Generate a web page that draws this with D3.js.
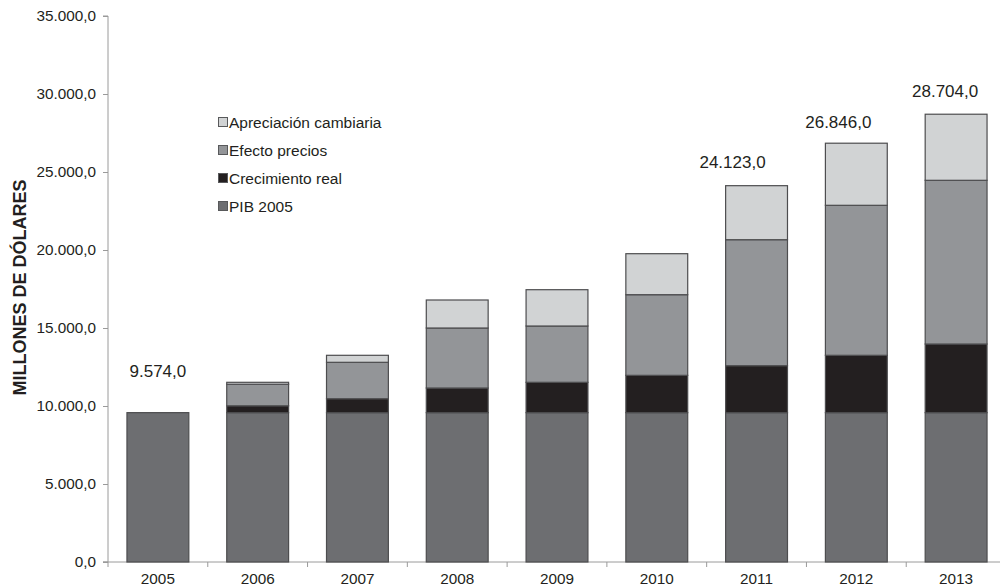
<!DOCTYPE html>
<html><head><meta charset="utf-8">
<script src="https://cdn.jsdelivr.net/npm/d3@7"></script>
<style>body{margin:0;background:#fff}svg{display:block;font-family:"Liberation Sans",Arial,sans-serif}</style>
</head><body><svg id="c" width="1000" height="587"></svg>
<script>
const years = ["2005","2006","2007","2008","2009","2010","2011","2012","2013"];
const pib2005 = [9574,9574,9574,9574,9574,9574,9574,9574,9574];
const crecimientoReal = [0,440,894,1580,1945,2392,3011,3676,4400];
const efectoPrecios = [0,1380,2333,3846,3609,5169,8075,9615,10494];
const apreciacionCambiaria = [0,125,449,1795,2327,2628,3463,3981,4236];
const seriesNames = ["PIB 2005","Crecimiento real","Efecto precios","Apreciación cambiaria"];
const seriesColors = ["#6d6e71","#231f20","#939598","#d1d3d4"];
const labelYears = ["2005","2011","2012","2013"];
const labelValues = [9574,24123,26846,28704];
const yTicks = [0,5000,10000,15000,20000,25000,30000,35000];

const svg = d3.select("#c");
const x = d3.scaleBand().domain(years).range([108,1006]).paddingInner(0.38).paddingOuter(0.19);
const y = d3.scaleLinear().domain([0,35000]).range([562,16]);
const loc = d3.formatLocale({decimal:",",thousands:".",grouping:[3],currency:["",""]});
const fmt = loc.format(",.1f");

const rows = years.map((yr,i)=>({year:yr,"PIB 2005":pib2005[i],"Crecimiento real":crecimientoReal[i],"Efecto precios":efectoPrecios[i],"Apreciación cambiaria":apreciacionCambiaria[i]}));
const stack = d3.stack().keys(seriesNames)(rows);

// axes
const yAxis = svg.append("g").attr("transform","translate(108,0)")
  .call(d3.axisLeft(y).tickValues(yTicks).tickFormat(fmt).tickSize(5).tickPadding(7));
yAxis.selectAll("path,line").attr("stroke","#9a9a9a");
yAxis.select(".domain").attr("d","M-5,16H0V562H-5");
yAxis.selectAll("text").attr("font-size",15.3).attr("fill","#231f20").attr("font-family","Liberation Sans, Arial, sans-serif");

const xg = svg.append("g");
xg.append("line").attr("x1",103).attr("x2",1006).attr("y1",562).attr("y2",562).attr("stroke","#9a9a9a");
const step = x.step();
d3.range(years.length+1).forEach(i=>{
  const bx = x.range()[0] + i*step;
  xg.append("line").attr("x1",bx).attr("x2",bx).attr("y1",562).attr("y2",567).attr("stroke","#9a9a9a");
});
xg.selectAll("text.yr").data(years).join("text").attr("class","yr")
  .attr("x",d=>x(d)+x.bandwidth()/2).attr("y",584).attr("text-anchor","middle")
  .attr("font-size",15.3).attr("fill","#231f20").text(d=>d);

// bars
stack.forEach((s,si)=>{
  svg.append("g").selectAll("rect").data(s.filter(d=>d[1]-d[0]>0)).join("rect")
    .attr("x",d=>x(d.data.year)).attr("width",x.bandwidth())
    .attr("y",d=>y(d[1])).attr("height",d=>y(d[0])-y(d[1]))
    .attr("fill",seriesColors[si]).attr("stroke","#4d4d4f").attr("stroke-width",1.2);
});

// data labels (manually placed in the original)
const lblDx = [0,-24,-18,-11], lblDy = [36,18,15,17];
svg.selectAll("text.lbl").data(labelYears).join("text").attr("class","lbl")
  .attr("x",(d,i)=>x(d)+x.bandwidth()/2+lblDx[i])
  .attr("y",(d,i)=>y(labelValues[i]) - lblDy[i])
  .attr("text-anchor","middle").attr("font-size",17).attr("fill","#231f20")
  .text((d,i)=>fmt(labelValues[i]));

// legend
const legendOrder = [3,2,1,0];
const lg = svg.append("g");
legendOrder.forEach((si,k)=>{
  const cy = 122 + k*28;
  lg.append("rect").attr("x",218.5).attr("y",cy-4.5).attr("width",9).attr("height",9)
    .attr("fill",seriesColors[si]).attr("stroke","#58595b").attr("stroke-width",1);
  lg.append("text").attr("x",229).attr("y",cy+5.5).attr("font-size",15.5).attr("fill","#231f20").text(seriesNames[si]);
});

// y title
svg.append("text").attr("transform","translate(26,287.5) rotate(-90)").attr("text-anchor","middle")
  .attr("font-size",18).attr("font-weight","bold").attr("fill","#231f20").text("MILLONES DE DÓLARES");
</script></body></html>
